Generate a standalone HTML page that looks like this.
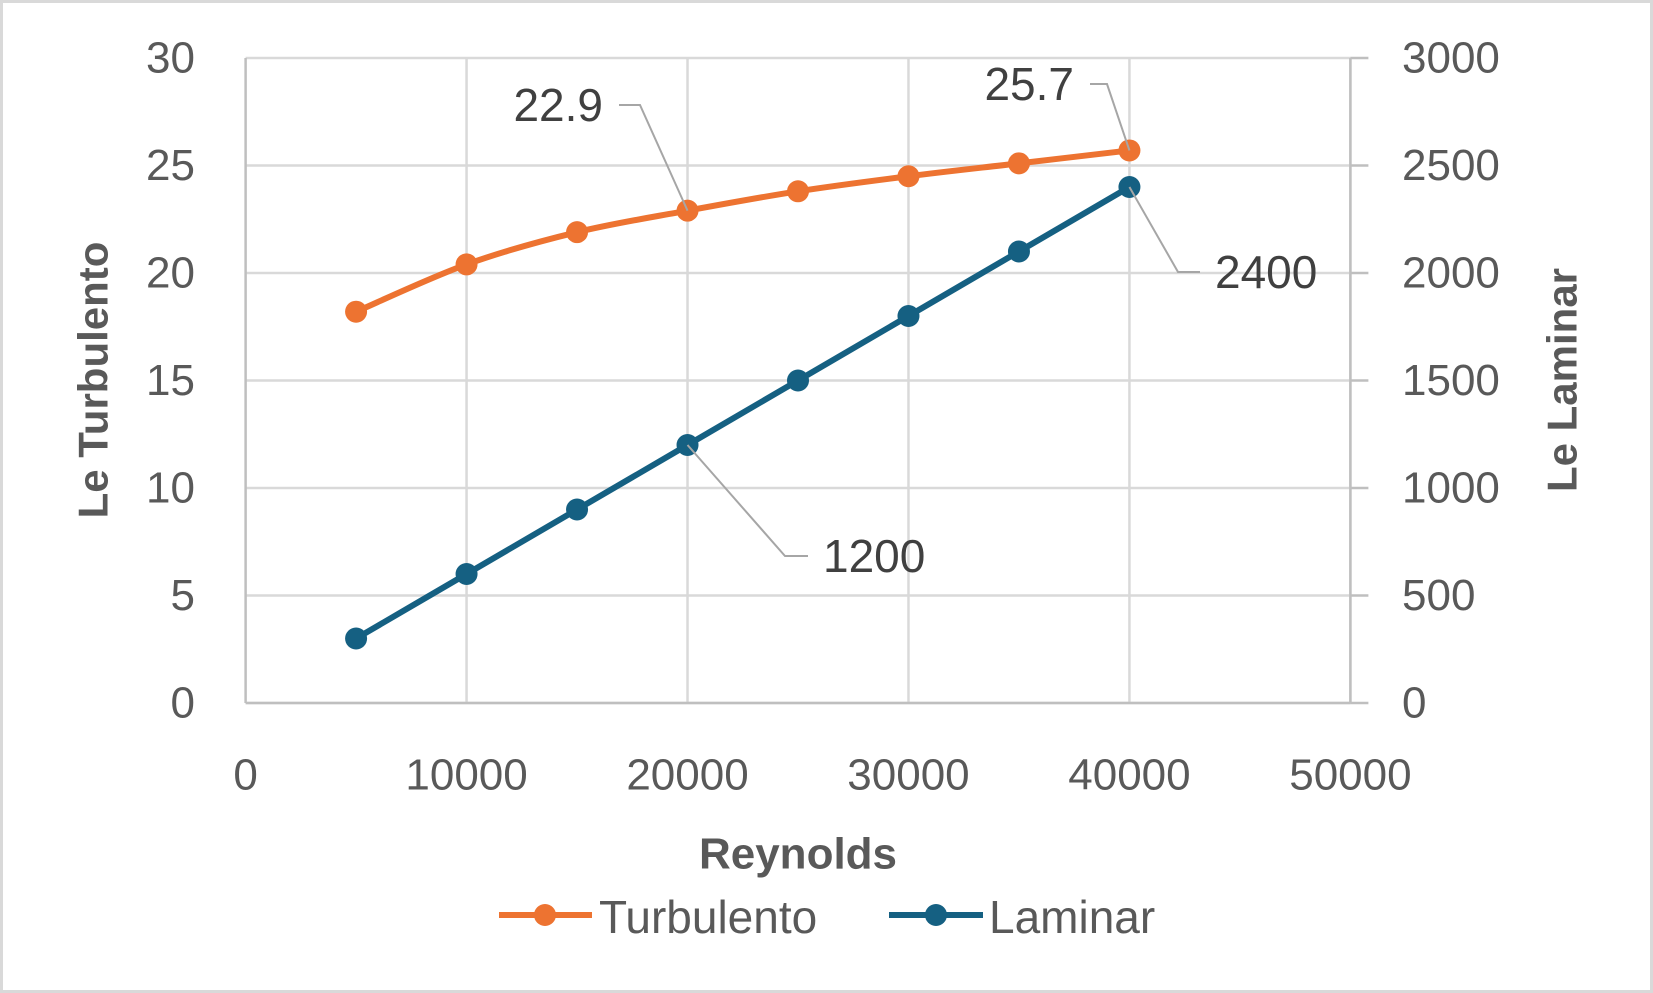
<!DOCTYPE html>
<html><head><meta charset="utf-8"><style>
body{margin:0;background:#fff}
svg{display:block;font-family:"Liberation Sans",sans-serif}
</style></head><body>
<svg id="chart" width="1653" height="993" viewBox="0 0 1653 993">
<rect x="1.5" y="1.5" width="1650" height="990" fill="#fff" stroke="#d9d9d9" stroke-width="3"/>
<g id="grid"></g><g id="axes"></g><g id="series"></g><g id="labels"></g>
<text x="93" y="380" transform="rotate(-90 93 380)" text-anchor="middle" dominant-baseline="central" font-size="42" font-weight="bold" fill="#595959">Le Turbulento</text>
<text x="1562" y="380" transform="rotate(-90 1562 380)" text-anchor="middle" dominant-baseline="central" font-size="42" font-weight="bold" fill="#595959">Le Laminar</text>
<text x="798" y="854" text-anchor="middle" dominant-baseline="central" font-size="44" font-weight="bold" fill="#595959">Reynolds</text>
<g>
<g>
<line x1="499" y1="915" x2="592" y2="915" stroke="#ed7331" stroke-width="6"/><circle cx="545" cy="915" r="11" fill="#ed7331"/>
<text x="599" y="917" dominant-baseline="central" font-size="46" fill="#595959">Turbulento</text></g>
<g>
<line x1="889" y1="915" x2="983" y2="915" stroke="#156082" stroke-width="6"/><circle cx="936" cy="915" r="11" fill="#156082"/>
<text x="989" y="917" dominant-baseline="central" font-size="46" fill="#595959">Laminar</text></g>
</g>
</svg>
<script>
const xValues=[5000,10000,15000,20000,25000,30000,35000,40000];
const turbulento=[18.2,20.4,21.9,22.9,23.8,24.5,25.1,25.7];
const laminar=[300,600,900,1200,1500,1800,2100,2400];
const xTicks=[0,10000,20000,30000,40000,50000];
const yLeftTicks=[0,5,10,15,20,25,30];
const yRightTicks=[0,500,1000,1500,2000,2500,3000];
const L=245.6,R=1350.4,T=58,B=703;
const xS=v=>L+(v/50000)*(R-L);
const yL=v=>B-(v/30)*(B-T);
const yR=v=>B-(v/3000)*(B-T);
const NS="http://www.w3.org/2000/svg";
function mk(tag,attrs,parent,txt){const e=document.createElementNS(NS,tag);for(const k in attrs)e.setAttribute(k,attrs[k]);if(txt!==undefined)e.textContent=txt;document.getElementById(parent).appendChild(e);return e;}
yLeftTicks.forEach((t,i)=>{
  const g=mk('line',{x1:L,x2:R,y1:yL(t),y2:yL(t),stroke:'#d9d9d9','stroke-width':2.5},'grid');
  
  
  const a=mk('text',{x:195,y:yL(t),'text-anchor':'end','dominant-baseline':'central','font-size':44,fill:'#595959'},'axes',t);
  
  
});
yRightTicks.forEach(t=>{
  const tk=mk('line',{x1:R,x2:R+18,y1:yR(t),y2:yR(t),stroke:'#bfbfbf','stroke-width':2.5},'axes');
  
  
  const a=mk('text',{x:1402,y:yR(t),'text-anchor':'start','dominant-baseline':'central','font-size':44,fill:'#595959'},'axes',t);
  
  
});
xTicks.forEach(t=>{
  if(t>0){const g=mk('line',{x1:xS(t),x2:xS(t),y1:T,y2:B,stroke:'#d9d9d9','stroke-width':2.5},'grid');
  
  }
  const a=mk('text',{x:xS(t),y:775,'text-anchor':'middle','dominant-baseline':'central','font-size':44,fill:'#595959'},'axes',t);
  
  
});
const ax=mk('line',{x1:L,x2:L,y1:T,y2:B,stroke:'#bfbfbf','stroke-width':2.5},'axes');


const ax2=mk('line',{x1:R,x2:R,y1:T,y2:B,stroke:'#bfbfbf','stroke-width':2.5},'axes');


const ax3=mk('line',{x1:L,x2:R,y1:B,y2:B,stroke:'#bfbfbf','stroke-width':2.5},'axes');


function series(vals,yf,color,name){
  const pts=vals.map((v,i)=>[xS(xValues[i]),yf(v)]);
  let d='M'+pts[0][0]+','+pts[0][1];
  for(let i=1;i<pts.length;i++){
    const p0=pts[i-2]||pts[i-1],p1=pts[i-1],p2=pts[i],p3=pts[i+1]||pts[i];
    const c1=[p1[0]+(p2[0]-p0[0])/6,p1[1]+(p2[1]-p0[1])/6],c2=[p2[0]-(p3[0]-p1[0])/6,p2[1]-(p3[1]-p1[1])/6];
    d+=` C${c1[0]},${c1[1]} ${c2[0]},${c2[1]} ${p2[0]},${p2[1]}`;
  }
  const p=mk('path',{d:d,fill:'none',stroke:color,'stroke-width':6,'stroke-linejoin':'round'},'series');
  
  
  pts.forEach(q=>{
    const c=mk('circle',{cx:q[0],cy:q[1],r:11,fill:color},'series');
    
    
  });
}
series(turbulento,yL,'#ed7331','turbulento');
series(laminar,yR,'#156082','laminar');
function dl(px,py,ex,ey,hx,tx,txt,anchor){
  const l=mk('polyline',{points:`${px},${py} ${ex},${ey} ${hx},${ey}`,fill:'none',stroke:'#a6a6a6','stroke-width':2},'labels');
  
  
  const t=mk('text',{x:tx,y:ey,'text-anchor':anchor,'dominant-baseline':'central','font-size':46,fill:'#404040'},'labels',txt);
  
  
}
dl(xS(xValues[3]),yL(turbulento[3]),640,105,619,603,turbulento[3],'end');
dl(xS(xValues[7]),yL(turbulento[7]),1107,84,1090,1074,turbulento[7],'end');
dl(xS(xValues[7]),yR(laminar[7]),1178,272,1200,1215,laminar[7],'start');
dl(xS(xValues[3]),yR(laminar[3]),785,556,808,823,laminar[3],'start');
</script>
</body></html>
